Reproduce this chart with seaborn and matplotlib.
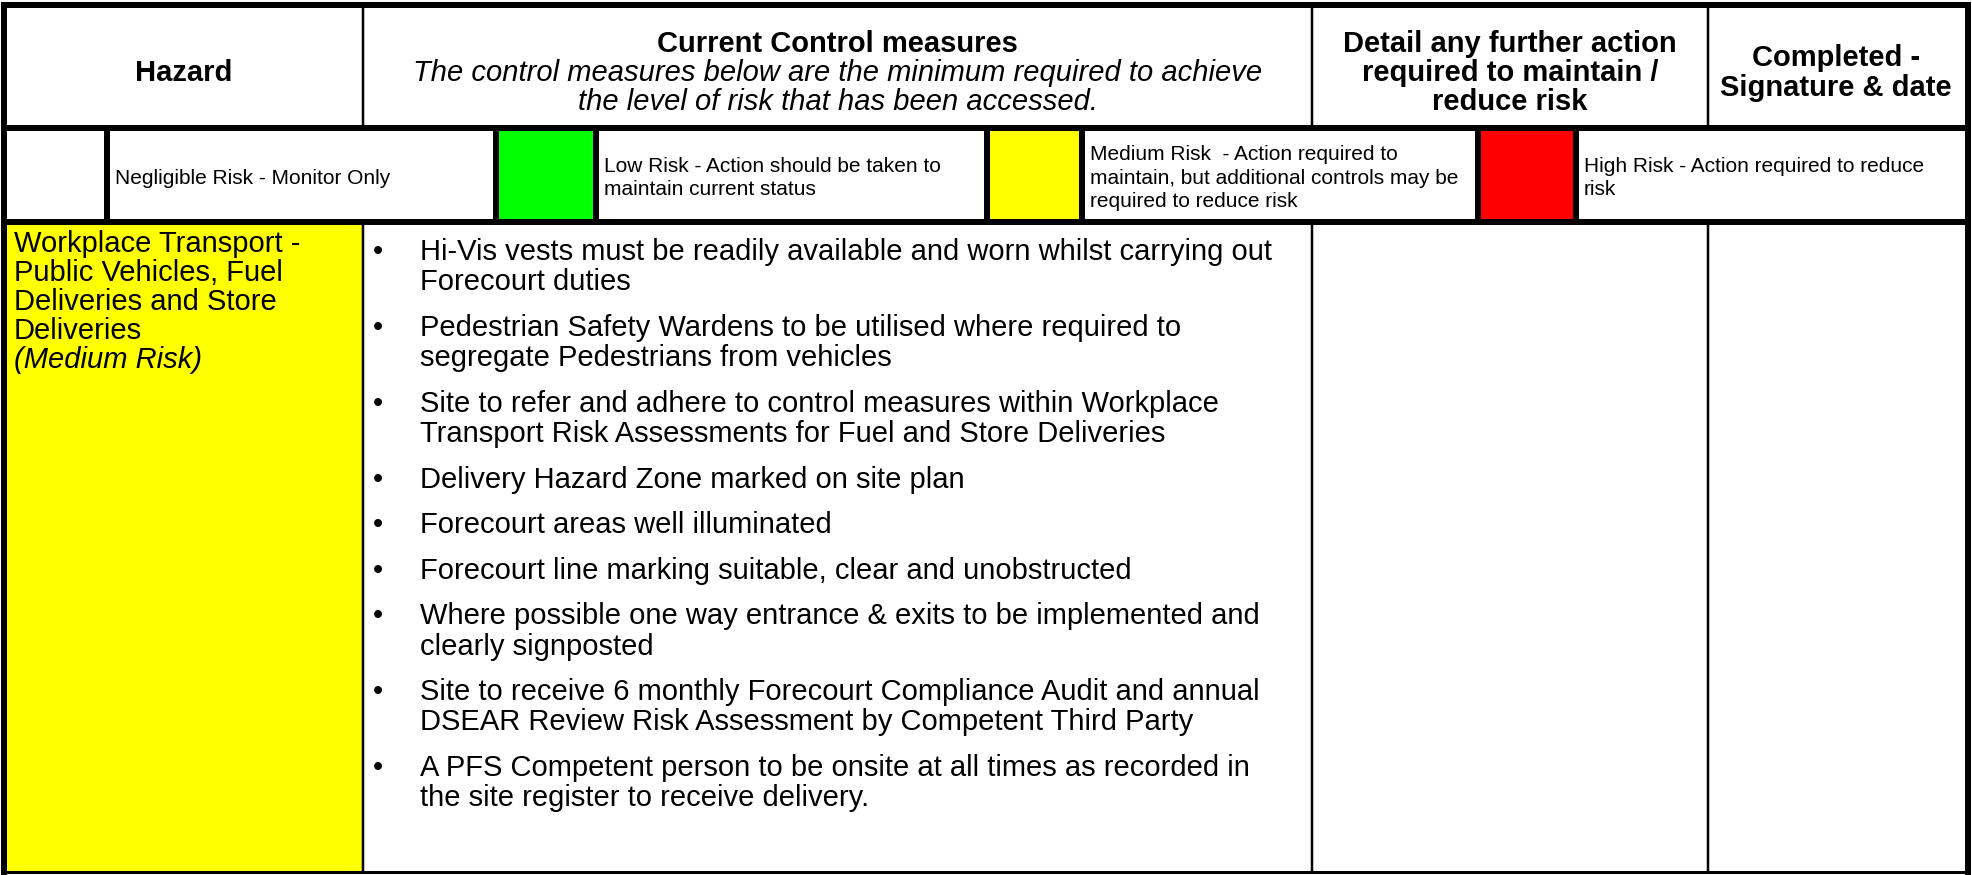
import matplotlib
matplotlib.use("Agg")
import matplotlib.pyplot as plt
from matplotlib.patches import Rectangle
import seaborn as sns

# # theme first, then the font list (set_theme resets font.family)
sns.set_theme(style="white")
plt.rcParams['font.family'] = ['Liberation Sans', 'DejaVu Sans']
plt.rcParams['text.color'] = 'black'

# # data
hazard_header = "Hazard"
control_header = "Current Control measures"
control_note = ["The control measures below are the minimum required to achieve",
                "the level of risk that has been accessed."]
action_header = ["Detail any further action", "required to maintain /", "reduce risk"]
completed_header = ["Completed -", "Signature & date"]

legend_labels = [["Negligible Risk - Monitor Only"],
                 ["Low Risk - Action should be taken to", "maintain current status"],
                 ["Medium Risk  - Action required to", "maintain, but additional controls may be",
                  "required to reduce risk"],
                 ["High Risk - Action required to reduce", "risk"]]
legend_colors = ["#FFFFFF", "#00FF00", "#FFFF00", "#FF0000"]

hazard_lines = ["Workplace Transport -", "Public Vehicles, Fuel", "Deliveries and Store", "Deliveries"]
hazard_level = "(Medium Risk)"
hazard_color = "#FFFF00"

control_measures = [
    ["Hi-Vis vests must be readily available and worn whilst carrying out", "Forecourt duties"],
    ["Pedestrian Safety Wardens to be utilised where required to", "segregate Pedestrians from vehicles"],
    ["Site to refer and adhere to control measures within Workplace",
     "Transport Risk Assessments for Fuel and Store Deliveries"],
    ["Delivery Hazard Zone marked on site plan"],
    ["Forecourt areas well illuminated"],
    ["Forecourt line marking suitable, clear and unobstructed"],
    ["Where possible one way entrance & exits to be implemented and", "clearly signposted"],
    ["Site to receive 6 monthly Forecourt Compliance Audit and annual",
     "DSEAR Review Risk Assessment by Competent Third Party"],
    ["A PFS Competent person to be onsite at all times as recorded in",
     "the site register to receive delivery."],
]

# # layout (pixel units of the output image)
W, H = 1972, 875
col_x = [4, 363, 1312, 1708, 1968]
row_y = [5, 128, 222, 872]
leg_x = [4, 107, 496, 596, 987, 1082, 1478, 1576, 1968]
THIN, THICK = 2.5, 6.0
FS, FS_SMALL = 21, 15
DY = 3  # text sits a little low in its line

fig = plt.figure(figsize=(W / 100, H / 100), dpi=100)
ax = fig.add_axes([0, 0, 1, 1])
ax.set_xlim(0, W)
ax.set_ylim(H, 0)
ax.axis("off")


def line(xs, ys, px):
    ax.plot(xs, ys, color="black", lw=px * 0.72, solid_capstyle="projecting", zorder=5)


# coloured cells
ax.add_patch(Rectangle((col_x[0], row_y[2]), col_x[1] - col_x[0], row_y[3] - row_y[2],
                       facecolor=hazard_color, edgecolor="none"))
for k, c in enumerate(legend_colors):
    x0, x1 = leg_x[2 * k], leg_x[2 * k + 1]
    ax.add_patch(Rectangle((x0, row_y[1]), x1 - x0, row_y[2] - row_y[1], facecolor=c, edgecolor="none"))

# grid lines
for x in col_x[1:-1]:
    line([x, x], [row_y[0], row_y[1]], THIN)
    line([x, x], [row_y[2], row_y[3]], THIN)
for x in leg_x[1:-1]:
    line([x, x], [row_y[1], row_y[2]], THICK)
line([col_x[0], col_x[-1]], [row_y[1], row_y[1]], THICK)
line([col_x[0], col_x[-1]], [row_y[2], row_y[2]], THICK)
# outer border
line([col_x[0], col_x[-1]], [row_y[0], row_y[0]], THICK)
line([col_x[0], col_x[0]], [row_y[0], row_y[3]], THICK)
line([col_x[-1], col_x[-1]], [row_y[0], row_y[3]], THICK)
line([col_x[0], col_x[-1]], [row_y[3], row_y[3]], 3)

# header row
step_h = 29.5
mid_h = 70 + DY
ax.text((col_x[0] + col_x[1]) / 2, mid_h, hazard_header, ha="center", va="center",
        fontsize=FS, fontweight="bold")
cx = (col_x[1] + col_x[2]) / 2
ax.text(cx, mid_h - step_h, control_header, ha="center", va="center", fontsize=FS, fontweight="bold")
for i, t in enumerate(control_note):
    ax.text(cx, mid_h + i * step_h, t, ha="center", va="center", fontsize=FS, style="italic")
cx = (col_x[2] + col_x[3]) / 2
for i, t in enumerate(action_header):
    ax.text(cx, mid_h + (i - 1) * step_h, t, ha="center", va="center", fontsize=FS, fontweight="bold")
cx = (col_x[3] + col_x[4]) / 2 - 2
for i, t in enumerate(completed_header):
    ax.text(cx, mid_h + (i - 0.5) * step_h, t, ha="center", va="center", fontsize=FS, fontweight="bold")

# legend row
step_l = 23.3
mid_l = (row_y[1] + row_y[2]) / 2 + DY
for k, lines in enumerate(legend_labels):
    x0 = leg_x[2 * k + 1] + 8
    n = len(lines)
    for i, t in enumerate(lines):
        ax.text(x0, mid_l + (i - (n - 1) / 2) * step_l, t, ha="left", va="center", fontsize=FS_SMALL)

# body: hazard description
y = 241 + DY
for t in hazard_lines:
    ax.text(col_x[0] + 10, y, t, ha="left", va="center", fontsize=FS)
    y += 29
ax.text(col_x[0] + 10, y, hazard_level, ha="left", va="center", fontsize=FS, style="italic")

# body: bullet list of control measures
step_b, gap_b = 30.4, 15.1
y = 249 + DY
for item in control_measures:
    ax.text(col_x[1] + 10, y, "\u2022", ha="left", va="center", fontsize=FS)
    for t in item:
        ax.text(col_x[1] + 57, y, t, ha="left", va="center", fontsize=FS)
        y += step_b
    y += gap_b

fig.savefig("out.png", dpi=100, facecolor="white")
